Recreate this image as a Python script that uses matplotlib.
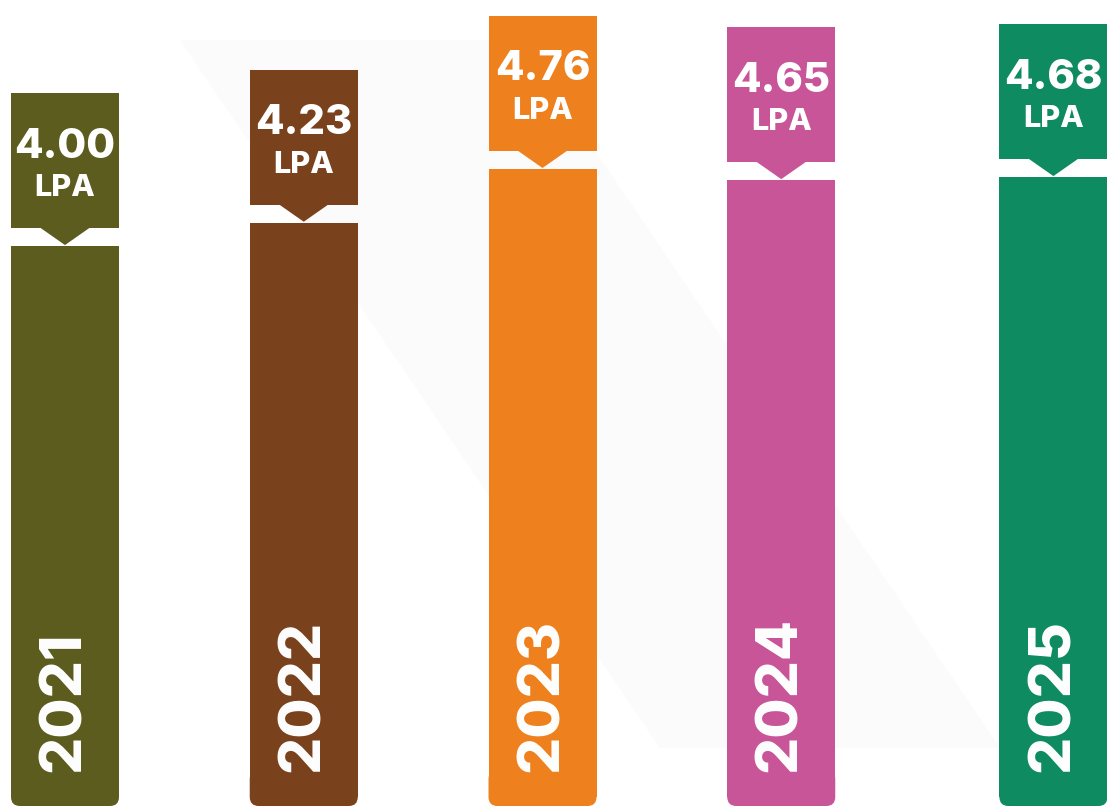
import matplotlib
matplotlib.use("Agg")
import matplotlib.pyplot as plt
from matplotlib.patches import FancyBboxPatch, Rectangle, Polygon

# ---- data ----
years = ["2021", "2022", "2023", "2024", "2025"]
values = [4.00, 4.23, 4.76, 4.65, 4.68]
unit = "LPA"
colors = ["#5d5c1f", "#7a411d", "#ee801d", "#c95599", "#0f8b61"]

# ---- layout ----
W, H = 1107, 808
bar_x = [0, 1, 2, 3, 4.14]           # horizontal slots (last one sits at the edge)
px_per_x = 238.75                    # pixels per slot
px_per_y = 101.4                     # pixels per LPA
x0_px = 65                           # pixel centre of the first slot
bar_w_px = 108
ref_v, ref_p = 4.464, 199            # value that sits at pixel row ref_p

fig = plt.figure(figsize=(W / 100, H / 100), dpi=100)
fig.patch.set_facecolor("#ffffff")
ax = fig.add_axes([0, 0, 1, 1])
ax.set_facecolor("#fefefe")

xlim = (-x0_px / px_per_x, (W - x0_px) / px_per_x)
ylim = (ref_v - (H - ref_p) / px_per_y, ref_v + ref_p / px_per_y)
ax.set_xlim(*xlim)
ax.set_ylim(*ylim)
ax.axis("off")

ux = 1 / px_per_x      # x-units per pixel
uy = 1 / px_per_y      # y-units per pixel

# very subtle background shading
ax.add_patch(Polygon([[xlim[0] + 180 * ux, ylim[1] - 40 * uy],
                      [xlim[0] + 520 * ux, ylim[1] - 40 * uy],
                      [xlim[0] + 1000 * ux, ylim[0] + 60 * uy],
                      [xlim[0] + 660 * ux, ylim[0] + 60 * uy]],
                     closed=True, facecolor="#fbfbfb", edgecolor="none", zorder=0))

bw = bar_w_px * ux
base = ylim[0] + 2 * uy
r_px = 9
font = ["Inter", "DejaVu Sans"]

for xi, v, yr, c in zip(bar_x, values, years, colors):
    # main bar (square top) drawn with the axis scales
    ax.bar(xi, v - (base + r_px * uy), bottom=base + r_px * uy, width=bw,
           color=c, edgecolor="none", zorder=2)
    # rounded bottom cap
    ax.add_patch(FancyBboxPatch((xi - bw / 2, base), bw, 4 * r_px * uy,
                                boxstyle=f"round,pad=0,rounding_size={r_px * ux}",
                                mutation_aspect=uy / ux,
                                facecolor=c, edgecolor="none", zorder=2))
    # label box + pointer
    tri_h, tri_w, gap, box_h = 17, 50, 1, 135
    tip = v + gap * uy
    box_bottom = tip + tri_h * uy
    ax.add_patch(Rectangle((xi - bw / 2, box_bottom), bw, box_h * uy,
                           facecolor=c, edgecolor="none", zorder=3))
    ax.add_patch(Polygon([[xi - tri_w / 2 * ux, box_bottom + 0.5 * uy],
                          [xi + tri_w / 2 * ux, box_bottom + 0.5 * uy],
                          [xi, tip]], closed=True,
                         facecolor=c, edgecolor="none", zorder=3))
    ax.text(xi, v + 88.5 * uy, f"{v:.2f}", color="white",
            fontsize=30, fontweight="heavy", family=font,
            ha="center", va="baseline", zorder=4)
    ax.text(xi, v + 50 * uy, unit, color="white",
            fontsize=22, fontweight="heavy", family=font,
            ha="center", va="baseline", zorder=4)
    # year inside the bar
    ax.text(xi, ylim[0] + (H - 772) * uy, yr, color="white", rotation=90,
            fontsize=42, fontweight="heavy", family=font,
            ha="center", va="bottom", zorder=4)

fig.savefig("out.png", dpi=100, facecolor=fig.get_facecolor())
